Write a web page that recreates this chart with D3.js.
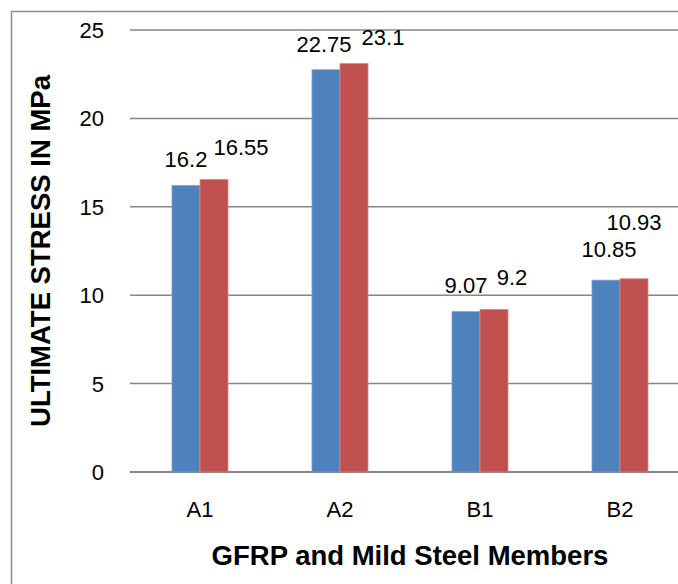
<!DOCTYPE html>
<html>
<head>
<meta charset="utf-8">
<script src="https://cdn.jsdelivr.net/npm/d3@7"></script>
<style>
  body { margin: 0; background: #fff; }
  text { font-family: "Liberation Sans", Arial, sans-serif; fill: #000; }
</style>
</head>
<body>
<div id="chart"></div>
<script>
// values
const categories = ["A1", "A2", "B1", "B2"];
const seriesNames = ["Series1", "Series2"];
const series1 = [16.2, 22.75, 9.07, 10.85];
const series2 = [16.55, 23.1, 9.2, 10.93];
const yTicks = [0, 5, 10, 15, 20, 25];

// labels were dragged around by hand in the original, so nudge them
const labelNudge1 = [[0, -19], [-2, -18], [0, -19], [3, -23]];
const labelNudge2 = [[27, -24], [29, -19], [18, -24], [0, -49]];

const W = 678, H = 584;
const colors = ["#4F81BD", "#C0504D"];

var svg = d3.select("#chart")
  .append("svg")
    .attr("width", W)
    .attr("height", H);

// chart frame (runs off the right and bottom edge)
svg.append("rect")
  .attr("x", 11.5).attr("y", 11.5)
  .attr("width", W + 20).attr("height", H + 20)
  .attr("fill", "#fff")
  .attr("stroke", "#8c8c8c")
  .attr("stroke-width", 1.5);

var x0 = d3.scaleBand()
  .domain(categories)
  .range([130, 690]);

var x1 = d3.scaleBand()
  .domain(seriesNames)
  .range([0, x0.bandwidth()])
  .paddingOuter(1.5);

var y = d3.scaleLinear()
  .domain([0, 25])
  .range([472, 30]);

// gridlines
svg.append("g")
  .selectAll("line")
  .data(yTicks)
  .enter()
  .append("line")
    .attr("x1", 130)
    .attr("x2", 700)
    .attr("y1", d => y(d))
    .attr("y2", d => y(d))
    .attr("stroke", "#868686")
    .attr("stroke-width", d => d === 0 ? 2 : 1.5);

// y tick labels
svg.append("g")
  .selectAll("text")
  .data(yTicks)
  .enter()
  .append("text")
    .attr("x", 104)
    .attr("y", d => y(d))
    .attr("dy", "0.36em")
    .attr("text-anchor", "end")
    .style("font-size", "22px")
    .text(d => d);

var rows = categories.map((c, i) => ({
  cat: c,
  vals: [series1[i], series2[i]],
  nudges: [labelNudge1[i], labelNudge2[i]]
}));

var groups = svg.append("g")
  .selectAll("g")
  .data(rows)
  .enter()
  .append("g")
    .attr("transform", d => "translate(" + x0(d.cat) + ",0)");

groups.selectAll("rect")
  .data(d => d.vals.map((v, k) => ({ k: k, v: v })))
  .enter()
  .append("rect")
    .attr("x", d => x1(seriesNames[d.k]))
    .attr("y", d => y(d.v))
    .attr("width", x1.bandwidth())
    .attr("height", d => y(0) - y(d.v))
    .attr("fill", d => colors[d.k])
    .attr("stroke", d => d.k === 0 ? "#7aa0d0" : "#d88a88")
    .attr("stroke-width", 0.8);

// data labels
groups.selectAll("text")
  .data(d => d.vals.map((v, k) => ({ k: k, v: v, n: d.nudges[k] })))
  .enter()
  .append("text")
    .attr("x", d => x1(seriesNames[d.k]) + x1.bandwidth() / 2 + d.n[0])
    .attr("y", d => y(d.v) + d.n[1])
    .attr("text-anchor", "middle")
    .style("font-size", "22px")
    .text(d => d.v);

// category labels
svg.append("g")
  .selectAll("text")
  .data(categories)
  .enter()
  .append("text")
    .attr("x", d => x0(d) + x0.bandwidth() / 2)
    .attr("y", 517)
    .attr("text-anchor", "middle")
    .style("font-size", "22px")
    .text(d => d);

// axis titles
svg.append("text")
  .attr("x", 410)
  .attr("y", 565)
  .attr("text-anchor", "middle")
  .style("font-size", "27.5px")
  .style("font-weight", "bold")
  .text("GFRP and Mild Steel Members");

svg.append("text")
  .attr("transform", "translate(50,251) rotate(-90)")
  .attr("text-anchor", "middle")
  .style("font-size", "27.5px")
  .style("font-weight", "bold")
  .text("ULTIMATE STRESS IN MPa");
</script>
</body>
</html>
